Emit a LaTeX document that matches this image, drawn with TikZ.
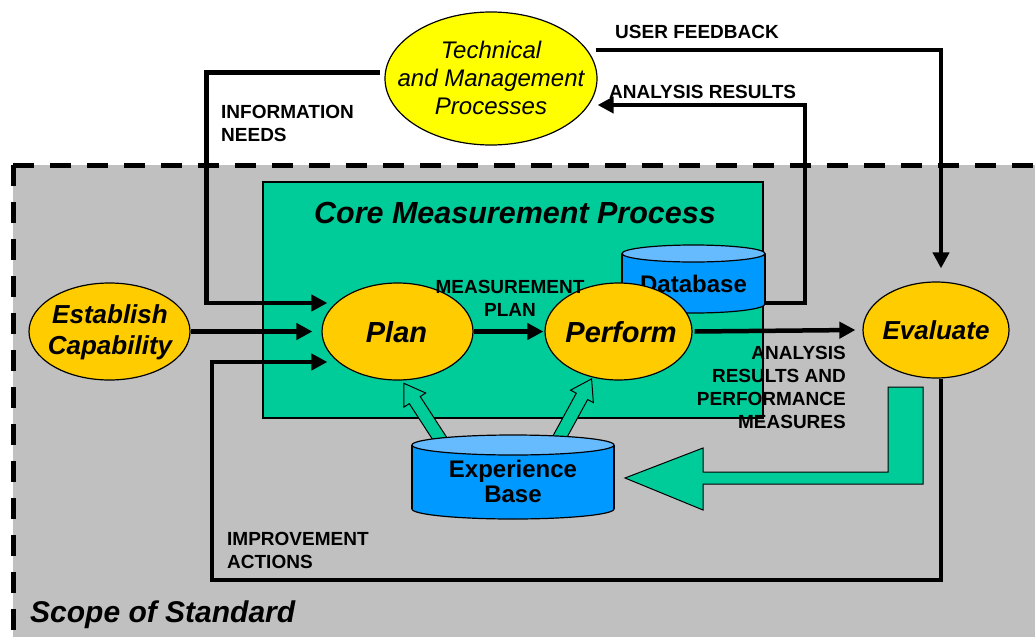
\documentclass[tikz,border=0pt]{standalone}
\usepackage{fontspec}
\setmainfont{Liberation Sans}
\usetikzlibrary{arrows.meta,shapes.geometric,calc}
\definecolor{bggray}{HTML}{C0C0C0}
\definecolor{tealc}{HTML}{00CC99}
\definecolor{ylw}{HTML}{FFFF00}
\definecolor{orng}{HTML}{FFCC00}
\definecolor{cylblue}{HTML}{0099FF}
\definecolor{cyltop}{HTML}{66BBFF}
\newcommand\setfs[2]{\fontsize{#1}{#2}\selectfont}
\begin{document}
\begin{tikzpicture}[x=1pt,y=-1pt,
  conn/.style={line width=4.5pt,-{Triangle[length=16pt,width=16pt]}},
  ell/.style={ellipse,draw=black,line width=1.2pt,inner sep=0pt},
  lbl/.style={font=\bfseries\setfs{19}{23},inner sep=0pt},
  bigtxt/.style={font=\bfseries\itshape\setfs{30}{31},inner sep=0pt},
  cyltxt/.style={font=\bfseries\setfs{24}{25},inner sep=0pt,align=center},
  hollow/.style={fill=tealc,draw=black,line width=1pt},
  dashline/.style={line width=5pt,dash pattern=on 21pt off 16pt}
]
\useasboundingbox (0,0) rectangle (1035,637);
% scope of standard region
\fill[bggray] (13,165) rectangle (1035,637);
\draw[dashline] (13,165) -- (1035,165);
\draw[dashline] (13,165) -- (13,637);
\node[bigtxt,anchor=west] (scope) at (30,615) {Scope of Standard};
% core box
\draw[fill=tealc,line width=1.2pt] (263,182) rectangle (763,418);
\node[font=\bfseries\itshape\setfs{30.5}{31},inner sep=0pt] (core) at (515,213) {Core Measurement Process};
% small hollow arrows
\begin{scope}[shift={(442,442)},rotate=123]
  \draw[hollow] (0,-6.5) -- (50,-6.5) -- (50,-13) -- (70,0) -- (50,13) -- (50,6.5) -- (0,6.5) -- cycle;
\end{scope}
\begin{scope}[shift={(557,442)},rotate=61.3]
  \draw[hollow] (0,-6.5) -- (52,-6.5) -- (52,-13) -- (72,0) -- (52,13) -- (52,6.5) -- (0,6.5) -- cycle;
\end{scope}
% database cylinder
\filldraw[fill=cylblue,draw=black,line width=1.2pt] (693.5,304) ellipse (71.5 and 9);
\fill[cylblue] (622,253.5) rectangle (765,304);
\draw[line width=1.2pt] (622,253.5) -- (622,304) (765,253.5) -- (765,304);
\filldraw[fill=cyltop,draw=black,line width=1.2pt] (693.5,253.5) ellipse (71.5 and 8.5);
\node[cyltxt,minimum width=143pt] (db) at (693.5,284) {Database};
% experience base cylinder
\filldraw[fill=cylblue,draw=black,line width=1.2pt] (513,509) ellipse (101 and 10);
\fill[cylblue] (412,445) rectangle (614,509);
\draw[line width=1.2pt] (412,445) -- (412,509) (614,445) -- (614,509);
\filldraw[fill=cyltop,draw=black,line width=1.2pt] (513,445) ellipse (101 and 10);
\node[cyltxt] (exp) at (513,481) {Experience\\Base};
% ellipses
\node[ell,fill=ylw,minimum width=212pt,minimum height=133pt] (tech) at (491,78.5) {};
\node[font=\itshape\setfs{24}{28},align=center,inner sep=0pt] (techt) at (491,78) {Technical\\and Management\\Processes};
\node[ell,fill=orng,minimum width=161pt,minimum height=97pt] (est) at (109.5,331.5) {};
\node[font=\bfseries\itshape\setfs{26}{31},align=center,inner sep=0pt] (estt) at (110,332) {Establish\\Capability};
\node[ell,fill=orng,minimum width=151pt,minimum height=97pt] (plan) at (397.5,331.5) {};
\node[font=\bfseries\itshape\setfs{29}{31},inner sep=0pt] (plant) at (396.5,332) {Plan};
\node[ell,fill=orng,minimum width=147pt,minimum height=97pt] (perf) at (618.5,331.5) {};
\node[font=\bfseries\itshape\setfs{29}{31},inner sep=0pt] (perft) at (621,332) {Perform};
\node[ell,fill=orng,minimum width=146pt,minimum height=96pt] (eval) at (936,330) {};
\node[font=\bfseries\itshape\setfs{26}{31},inner sep=0pt] (evalt) at (936,330) {Evaluate};
% connectors
\draw[conn] ([xshift=-4pt,yshift=6pt]tech.west) -- ++(-174,0) |- ([xshift=6pt,yshift=28.5pt]plan.west);
\draw[conn] (est.east) -- ([xshift=-9pt]plan.west);
\draw[conn] ([xshift=5pt]eval.south) |- (212,580) -- (212,362) -- ([xshift=6pt,yshift=-30.5pt]plan.west);
\draw[conn] (plan.east) -- ([xshift=-1pt,yshift=0pt]perf.west);
\draw[conn] ([xshift=2pt]perf.east) -- ([xshift=-7pt]eval.west);
\draw[conn] ([yshift=-19pt]db.east) -- (805,303) |- ([yshift=-26.5pt]tech.east);
\draw[conn] ([xshift=-2pt,yshift=28.5pt]tech.east) -| ([xshift=5pt,yshift=13pt]eval.north);
% big hollow arrow
\draw[hollow] (923,387) -- (923,484) -- (703,484) -- (703,510) -- (625,478) -- (703,448) -- (703,472) -- (888,472) -- (888,387) -- cycle;
% labels
\node[lbl,anchor=west,align=left] (lneeds) at (221,123.5) {INFORMATION\\NEEDS};
\node[lbl,anchor=west] (lfeed) at (615,32) {USER FEEDBACK};
\node[lbl,anchor=west] (lres) at (609,92) {ANALYSIS RESULTS};
\node[lbl,align=center] (lplan) at (510,298) {MEASUREMENT\\PLAN};
\node[lbl,anchor=east,align=right] (lperf) at (846,387.5) {ANALYSIS\\RESULTS AND\\PERFORMANCE\\MEASURES};
\node[lbl,anchor=west,align=left] (limp) at (227,550) {IMPROVEMENT\\ACTIONS};
\end{tikzpicture}
\end{document}
